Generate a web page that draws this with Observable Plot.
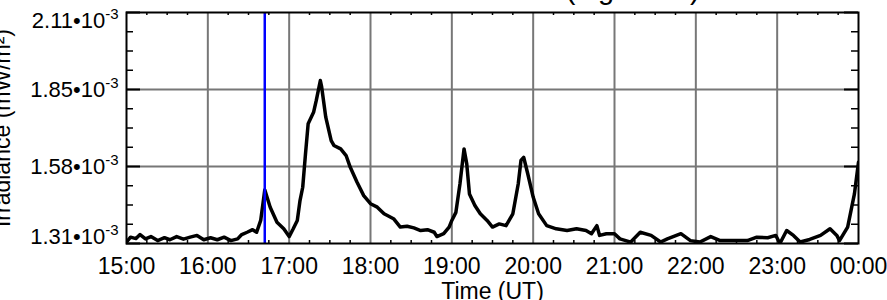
<!DOCTYPE html>
<html><head><meta charset="utf-8">
<script src="https://cdn.jsdelivr.net/npm/d3@7"></script>
<script src="https://cdn.jsdelivr.net/npm/@observablehq/plot@0.6"></script>
<style>
html,body{margin:0;padding:0;background:#fff;}
#chart{width:887px;height:300px;overflow:hidden;}
</style></head><body><div id="chart"></div>
<script>
const title = "GOES-15 1–8 Å Flux (log scale)";
const xLabel = "Time (UT)";
const yLabel = "Irradiance (mW/m²)";
// irradiance in units of 10^-3 mW/m²
const times = ["15:00","15:03","15:07","15:10","15:14","15:18","15:23","15:28","15:32","15:37","15:42","15:47","15:52","15:57","16:02","16:07","16:12","16:17","16:22","16:25","16:29","16:33","16:36","16:39","16:42","16:44","16:46","16:51","16:56","17:00","17:03","17:06","17:08","17:10","17:12","17:14","17:18","17:20","17:23","17:24","17:27","17:31","17:33","17:38","17:42","17:45","17:50","17:55","18:00","18:05","18:10","18:17","18:22","18:27","18:32","18:37","18:42","18:47","18:49","18:54","18:58","19:00","19:03","19:06","19:09","19:11","19:13","19:17","19:21","19:26","19:30","19:35","19:40","19:45","19:49","19:51","19:53","19:56","20:00","20:04","20:10","20:17","20:25","20:32","20:39","20:43","20:47","20:49","20:54","21:00","21:04","21:12","21:19","21:27","21:34","21:39","21:49","21:56","22:03","22:11","22:18","22:28","22:38","22:45","22:53","22:59","23:02","23:07","23:12","23:17","23:24","23:32","23:39","23:44","23:46","23:52","23:55","23:57","24:00"];
const irradiance = [1.317,1.334,1.329,1.343,1.328,1.336,1.322,1.332,1.325,1.336,1.327,1.334,1.340,1.325,1.332,1.325,1.334,1.322,1.328,1.343,1.351,1.360,1.351,1.392,1.498,1.468,1.438,1.386,1.363,1.336,1.363,1.392,1.461,1.507,1.620,1.727,1.767,1.808,1.877,1.854,1.750,1.669,1.652,1.640,1.617,1.577,1.525,1.478,1.450,1.438,1.415,1.398,1.369,1.372,1.366,1.357,1.360,1.351,1.336,1.346,1.369,1.392,1.420,1.519,1.640,1.588,1.484,1.444,1.415,1.392,1.369,1.380,1.374,1.415,1.519,1.600,1.611,1.554,1.473,1.415,1.374,1.363,1.357,1.363,1.357,1.346,1.374,1.340,1.346,1.346,1.328,1.317,1.351,1.340,1.317,1.328,1.346,1.322,1.317,1.336,1.322,1.322,1.322,1.334,1.332,1.340,1.312,1.357,1.340,1.317,1.326,1.340,1.363,1.340,1.322,1.369,1.438,1.484,1.594];
const markerTime = "16:42";
const xTickHours = [15,16,17,18,19,20,21,22,23,24];
const xTickLabels = ["15:00","16:00","17:00","18:00","19:00","20:00","21:00","22:00","23:00","00:00"];
const yTickValues = [1.312,1.579,1.846,2.113];
const yTickLabels = ["1.31•10^-3","1.58•10^-3","1.85•10^-3","2.11•10^-3"];

const toHours = t => { const [h, m] = t.split(":").map(Number); return h + m / 60; };
const series = times.map((t, i) => ({h: toHours(t), v: irradiance[i]}));
const yMinor = d3.range(0, yTickValues.length - 1).flatMap(i => [1,2,3].map(k => yTickValues[i] + k * (yTickValues[i+1] - yTickValues[i]) / 4));
const xMinor = d3.range(xTickHours[0], xTickHours[xTickHours.length-1], 0.25).filter(h => h % 1 !== 0);
const yLab = yTickValues.map((v, i) => ({v, label: yTickLabels[i]}));
const xLab = xTickHours.map((h, i) => ({h, label: xTickLabels[i]}));

const W = 887, H = 300, ML = 126, MR = 29, MT = 12, MB = 57;
const PW = W - ML - MR, PH = H - MT - MB;
const font = "'Liberation Sans', Arial, Helvetica, sans-serif";

const plot = Plot.plot({
  width: W, height: H,
  marginTop: MT, marginBottom: MB, marginLeft: ML, marginRight: MR,
  style: {fontFamily: font, background: "#fff", color: "#000", overflow: "visible"},
  x: {type: "linear", domain: [xTickHours[0], xTickHours[xTickHours.length-1]], axis: null},
  y: {type: "linear", domain: [yTickValues[0], yTickValues[yTickValues.length-1]], axis: null},
  marks: [
    Plot.ruleX(xTickHours.slice(1, -1), {stroke: "#777", strokeWidth: 2}),
    Plot.ruleY(yTickValues.slice(1, -1), {stroke: "#777", strokeWidth: 2}),
    Plot.line(series, {x: "h", y: "v", stroke: "#000", strokeWidth: 3.5, strokeLinejoin: "round", clip: true}),
    Plot.ruleX([toHours(markerTime)], {stroke: "#0000ff", strokeWidth: 2.5}),
    // inward ticks
    Plot.tickY(yTickValues, {stroke: "#000", strokeWidth: 2, insetRight: PW - 14}),
    Plot.tickY(yTickValues, {stroke: "#000", strokeWidth: 2, insetLeft: PW - 14}),
    Plot.tickY(yMinor, {stroke: "#000", strokeWidth: 1.5, insetRight: PW - 7}),
    Plot.tickY(yMinor, {stroke: "#000", strokeWidth: 1.5, insetLeft: PW - 7}),
    Plot.tickX(xMinor, {stroke: "#000", strokeWidth: 1.5, insetBottom: PH - 3}),
    Plot.tickX(xMinor, {stroke: "#000", strokeWidth: 1.5, insetTop: PH - 3}),
    Plot.frame({stroke: "#000", strokeWidth: 2}),
    // y tick labels
    Plot.text(yLab.slice(0, 1), {y: "v", text: "label", frameAnchor: "left", dx: -8, textAnchor: "end", lineAnchor: "bottom", fontSize: 22, fill: "#000"}),
    Plot.text(yLab.slice(1, -1), {y: "v", text: "label", frameAnchor: "left", dx: -8, textAnchor: "end", lineAnchor: "middle", fontSize: 22, fill: "#000"}),
    Plot.text(yLab.slice(-1), {y: "v", text: "label", frameAnchor: "left", dx: -8, textAnchor: "end", lineAnchor: "top", fontSize: 22, fill: "#000"}),
    // x tick labels
    Plot.text(xLab, {x: "h", text: "label", frameAnchor: "bottom", dy: 14, lineAnchor: "top", fontSize: 23, fill: "#000"}),
    // axis labels and title
    Plot.text([xLabel], {frameAnchor: "bottom", dy: 55, lineAnchor: "bottom", fontSize: 23, fill: "#000"}),
    Plot.text([yLabel], {frameAnchor: "left", dx: -117, rotate: -90, lineAnchor: "bottom", textAnchor: "middle", fontSize: 23, fill: "#000"}),
    Plot.text([title], {frameAnchor: "top", dy: -MT - 2, lineAnchor: "bottom", fontSize: 29, fill: "#000"})
  ]
});

plot.querySelectorAll("text").forEach(t => {
  const s = t.textContent;
  if (s.includes("^") && t.children.length === 0) {
    const [base, exp] = s.split("^");
    t.textContent = base;
    const ts = document.createElementNS("http://www.w3.org/2000/svg", "tspan");
    ts.setAttribute("dy", "-9");
    ts.setAttribute("font-size", "15");
    ts.textContent = exp;
    t.appendChild(ts);
  }
});
document.getElementById("chart").appendChild(plot);
</script>
</body></html>
